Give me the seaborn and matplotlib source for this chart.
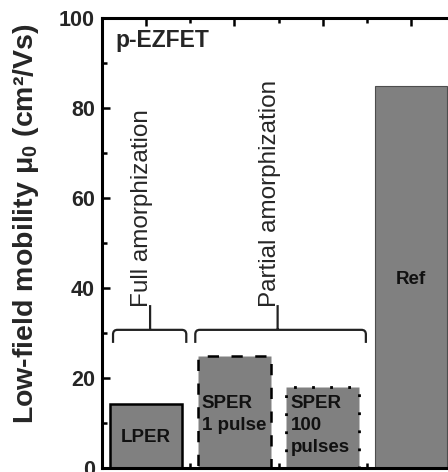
import matplotlib
matplotlib.use("Agg")
import matplotlib.pyplot as plt
import seaborn as sns
import pandas as pd
from matplotlib.path import Path
from matplotlib.patches import PathPatch

# ---- data ----
categories = ["LPER", "SPER 1 pulse", "SPER 100 pulses", "Ref"]
mobility = [14.2, 25.0, 18.0, 85.0]
bar_labels = ["LPER", "SPER\n1 pulse", "SPER\n100\npulses", "Ref"]
yticks = [0, 20, 40, 60, 80, 100]
group_names = ["Full amorphization", "Partial amorphization"]
group_members = [[0], [1, 2]]

sns.set_theme(style="ticks")
plt.rcParams["font.family"] = ["Liberation Sans", "DejaVu Sans"]
plt.rcParams["mathtext.default"] = "regular"

df = pd.DataFrame({"sample": categories, "mu": mobility})

fig = plt.figure(figsize=(4.48, 4.72), dpi=100)
ax = fig.add_axes([102 / 448, 4 / 472, 353 / 448, 450 / 472])

sns.barplot(data=df, x="sample", y="mu", color="#808080", saturation=1,
            width=0.82, ax=ax, edgecolor="black")

styles = [("-", 1.8, "black"),
          ((0, (4.5, 5.0)), 1.8, "black"),
          ((0, (1.0, 5.5)), 2.0, "black"),
          ("-", 0.8, "#4d4d4d")]
for p, (ls, lw, ec) in zip(ax.patches, styles):
    p.set_linestyle(ls)
    p.set_linewidth(lw)
    p.set_edgecolor(ec)
    p.set_facecolor("#808080")

ax.set_xlim(-0.5, 3.5)
ax.set_ylim(0, 100)
ax.set_yticks(yticks)
ax.set_yticks([10, 30, 50, 70, 90], minor=True)
ax.set_xticks(range(len(categories)))
ax.set_xticks([0.5, 1.5, 2.5], minor=True)
ax.set_xticklabels([])
ax.set_xlabel("")
ax.set_ylabel("Low-field mobility μ$_0$ (cm²/Vs)", fontsize=20.5,
              fontweight="bold")
ax.yaxis.set_label_coords(-0.172, 0.542)
ax.tick_params(which="both", direction="in", top=True, right=True,
               bottom=True, left=True, color="black")
ax.tick_params(which="major", length=6, width=1.8, labelsize=15.5, pad=5)
ax.tick_params(which="minor", length=3.5, width=1.8)
for lab in ax.get_yticklabels():
    lab.set_fontweight("bold")
for s in ax.spines.values():
    s.set_linewidth(2.2)
    s.set_color("black")

# in-bar labels
lab_kw = dict(fontsize=13.5, fontweight="bold", color="#111111")
ax.text(0, 6.8, bar_labels[0], ha="center", va="center", **lab_kw)
ax.text(1 - 0.37, 16.3, bar_labels[1], ha="left", va="top",
        linespacing=1.38, **lab_kw)
ax.text(2 - 0.36, 16.3, bar_labels[2], ha="left", va="top",
        linespacing=1.38, **lab_kw)
ax.text(3, 42, bar_labels[3], ha="center", va="center", **lab_kw)

ax.text(0.037, 0.95, "p-EZFET", transform=ax.transAxes, ha="left",
        va="center", fontsize=16.5, fontweight="bold")

# group brackets
spans = [(-0.375, 0.455, 0.045), (0.557, 2.49, 1.49)]
y_h, y_end, y_top = 30.7, 27.8, 36.2
rx, ry = 0.05, 1.0
for (x0, x1, xm), name in zip(spans, group_names):
    verts = [(x0, y_end), (x0, y_h - ry), (x0, y_h), (x0 + rx, y_h),
             (x1 - rx, y_h), (x1, y_h), (x1, y_h - ry), (x1, y_end),
             (xm, y_h), (xm, y_top)]
    codes = [Path.MOVETO, Path.LINETO, Path.CURVE3, Path.CURVE3,
             Path.LINETO, Path.CURVE3, Path.CURVE3, Path.LINETO,
             Path.MOVETO, Path.LINETO]
    ax.add_patch(PathPatch(Path(verts, codes), fill=False, lw=1.6,
                           edgecolor="#222222"))
    ax.text(xm - 0.09, y_top - 0.5, name, rotation=90, ha="center",
            va="bottom", fontsize=17.5)

fig.savefig("out.png", dpi=100)
